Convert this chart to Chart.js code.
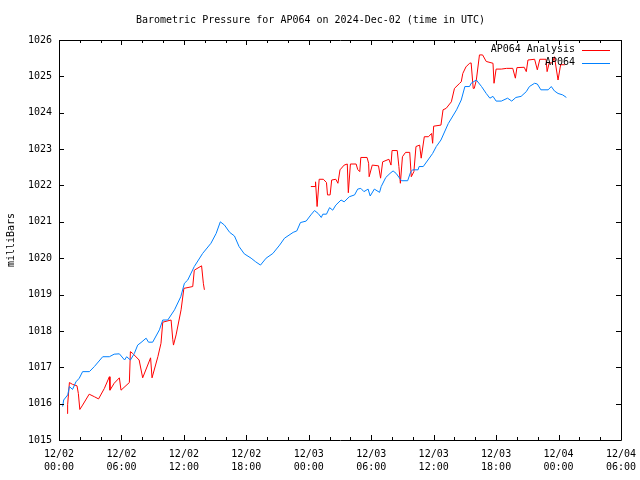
<!DOCTYPE html>
<html>
<head>
<meta charset="utf-8">
<script src="https://cdn.jsdelivr.net/npm/chart.js@4/dist/chart.umd.min.js"></script>
<style>
  html, body { margin: 0; padding: 0; background: #fff; }
  #grafica { display: block; }
</style>
</head>
<body>
<canvas id="grafica" width="640" height="480"></canvas>
<script>
// hours since 12/02 00:00 UTC and pressure (mb)
const horasEstacion = [0.35, 0.45, 0.84, 1.0, 1.3, 1.63, 1.95, 2.27, 2.92, 3.4, 4.2, 4.84, 5.3, 5.8, 6.3, 6.5, 6.86, 7.24, 7.56, 7.88,
  8.37, 8.6, 9.0, 9.65, 9.97, 10.45, 11.1, 11.7, 12.05, 12.37, 13.0, 13.8, 14.6, 15.1, 15.5, 15.9, 16.4, 16.86, 17.3, 17.8,
  18.46, 18.9, 19.36, 19.9, 20.55, 21.2, 21.67, 22.5, 22.85, 23.2, 23.75, 24.2, 24.55, 24.9, 25.2, 25.35, 25.7, 26.0, 26.3, 26.6,
  27.1, 27.4, 27.9, 28.4, 28.7, 29.0, 29.3, 29.7, 29.9, 30.3, 30.8, 30.96, 31.4, 31.8, 32.1, 32.4, 32.9, 33.5, 33.8, 34.0,
  34.5, 34.6, 35.0, 35.45, 35.9, 36.25, 36.7, 37.4, 38.2, 38.65, 39.0, 39.45, 39.6, 40.1, 40.6, 41.05, 41.4, 41.7, 42.0, 42.5,
  43.1, 43.5, 43.9, 44.4, 44.9, 45.2, 45.7, 45.96, 46.3, 47.0, 47.3, 47.6, 47.95, 48.4, 48.75];
const presionEstacion = [1015.92, 1016.10, 1016.24, 1016.47, 1016.39, 1016.60, 1016.70, 1016.88, 1016.88, 1017.02, 1017.29, 1017.29, 1017.36, 1017.37, 1017.20, 1017.29, 1017.20, 1017.38, 1017.61, 1017.68,
  1017.80, 1017.69, 1017.69, 1018.03, 1018.30, 1018.30, 1018.58, 1018.94, 1019.31, 1019.40, 1019.77, 1020.13, 1020.41, 1020.68, 1021.00, 1020.91, 1020.71, 1020.61, 1020.32, 1020.12,
  1020.00, 1019.90, 1019.81, 1020.00, 1020.13, 1020.36, 1020.55, 1020.71, 1020.75, 1020.98, 1021.02, 1021.19, 1021.31, 1021.23, 1021.12, 1021.21, 1021.21, 1021.39, 1021.32, 1021.46,
  1021.60, 1021.55, 1021.69, 1021.74, 1021.90, 1021.92, 1021.83, 1021.90, 1021.71, 1021.90, 1021.81, 1021.97, 1022.22, 1022.33, 1022.40, 1022.33, 1022.13, 1022.13, 1022.38, 1022.43,
  1022.43, 1022.52, 1022.52, 1022.70, 1022.88, 1023.07, 1023.25, 1023.70, 1024.08, 1024.35, 1024.72, 1024.72, 1024.81, 1024.90, 1024.72, 1024.53, 1024.40, 1024.45, 1024.32, 1024.32,
  1024.40, 1024.32, 1024.42, 1024.45, 1024.58, 1024.72, 1024.81, 1024.79, 1024.63, 1024.63, 1024.72, 1024.60, 1024.53, 1024.49, 1024.42];

// analysis series, null = gap in the record
const horasAnalisis = [0.77, 0.83, 1.0, 1.3, 1.73, 1.86, 2.0, 2.27, 2.9, 3.4, 3.8, 4.36, 4.84, 4.9, 5.3, 5.8, 5.96, 6.76, 6.86, 7.08,
  7.7, 8.04, 8.8, 8.94, 9.5, 9.8, 9.97, 10.77, 10.93, 11.0, 11.25, 11.73, 12.0, 12.85, 13.0, 13.7, 13.87, 13.97, 19.0,
  24.2, 24.6, 24.65, 24.8, 25.0, 25.4, 25.7, 25.8, 26.05, 26.2, 26.6, 26.8, 27.0, 27.4, 27.7, 27.8, 28.0, 28.55, 28.7, 28.9,
  29.0, 29.6, 29.75, 29.8, 30.1, 30.7, 30.9, 31.1, 31.7, 31.9, 32.0, 32.5, 32.66, 32.8, 33.0, 33.3, 33.7, 33.85, 34.1, 34.3,
  34.65, 34.8, 35.1, 35.5, 35.8, 35.9, 36.0, 36.7, 36.9, 37.2, 37.7, 38.0, 38.5, 38.65, 38.8, 39.1, 39.45, 39.6, 39.8, 39.9,
  40.1, 40.4, 40.7, 41.05, 41.7, 41.8, 42.0, 42.5, 43.0, 43.6, 43.85, 44.0, 44.7, 44.9, 45.06, 45.7, 45.96, 46.2, 46.8, 46.9,
  47.1, 47.4, 47.6, 47.95, 48.2, 48.6];
const presionAnalisis = [1015.73, 1015.97, 1016.58, 1016.53, 1016.49, 1016.28, 1015.84, 1015.96, 1016.26, 1016.19, 1016.13, 1016.42, 1016.74, 1016.37, 1016.56, 1016.71, 1016.37, 1016.58, 1017.43, 1017.38,
  1017.20, 1016.71, 1017.26, 1016.71, 1017.29, 1017.66, 1018.24, 1018.30, 1017.77, 1017.61, 1017.89, 1018.58, 1019.17, 1019.22, 1019.67, 1019.79, 1019.31, 1019.13, null,
  1021.97, 1021.97, 1022.10, 1021.42, 1022.17, 1022.17, 1022.08, 1021.74, 1021.74, 1022.15, 1022.17, 1022.06, 1022.43, 1022.56, 1022.59, 1021.80, 1022.59, 1022.59, 1022.44, 1022.38,
  1022.77, 1022.77, 1022.61, 1022.24, 1022.56, 1022.54, 1022.20, 1022.65, 1022.72, 1022.56, 1022.96, 1022.96, 1022.52, 1022.06, 1022.79, 1022.91, 1022.91, 1022.24, 1022.38, 1023.07,
  1023.11, 1022.75, 1023.34, 1023.34, 1023.43, 1023.16, 1023.63, 1023.66, 1024.08, 1024.12, 1024.30, 1024.67, 1024.81, 1024.85, 1025.08, 1025.26, 1025.36, 1025.37, 1024.67, 1024.67,
  1024.90, 1025.59, 1025.59, 1025.41, 1025.36, 1024.81, 1025.20, 1025.20, 1025.22, 1025.22, 1024.95, 1025.24, 1025.25, 1025.13, 1025.45, 1025.47, 1025.18, 1025.47, 1025.47, 1025.13,
  1025.37, 1025.37, 1025.54, 1024.90, 1025.32, 1025.32];

const etiquetasSerie = ["AP064 Analysis", "AP064"];
const fechasEje = ["12/02", "12/03", "12/04"];

const fuente = "'DejaVu Sans Mono', 'Liberation Mono', monospace";
Chart.defaults.font.family = fuente;
Chart.defaults.font.size = 10;
Chart.defaults.color = '#000';

function aPuntos(horas, valores) {
  return horas.map((h, i) => ({ x: h, y: valores[i] }));
}

// marco negro con marcas hacia dentro, estilo gnuplot
const marco = {
  id: 'marco',
  afterDraw(chart) {
    const ctx = chart.ctx;
    const a = chart.chartArea;
    const sx = chart.scales.x, sy = chart.scales.y;
    ctx.save();
    ctx.strokeStyle = '#000';
    ctx.lineWidth = 1;
    ctx.beginPath();
    ctx.rect(Math.round(a.left) + 0.5, Math.round(a.top) + 0.5, Math.round(a.right - a.left), Math.round(a.bottom - a.top));
    for (let h = 0; h <= 54; h += 2) {
      const x = Math.round(sx.getPixelForValue(h)) + 0.5;
      const largo = h % 6 === 0 ? 5 : 3;
      ctx.moveTo(x, a.bottom); ctx.lineTo(x, a.bottom - largo);
      ctx.moveTo(x, a.top); ctx.lineTo(x, a.top + largo);
    }
    for (let v = 1015; v <= 1026; v++) {
      const y = Math.round(sy.getPixelForValue(v)) + 0.5;
      ctx.moveTo(a.left, y); ctx.lineTo(a.left + 5, y);
      ctx.moveTo(a.right, y); ctx.lineTo(a.right - 5, y);
    }
    ctx.stroke();

    // leyenda
    ctx.font = '10px ' + fuente;
    ctx.textAlign = 'right';
    ctx.textBaseline = 'middle';
    chart.data.datasets.forEach((ds, i) => {
      const y = 49.5 + 13 * i;
      ctx.fillStyle = '#000';
      ctx.fillText(ds.label, 575, y);
      ctx.strokeStyle = ds.borderColor;
      ctx.beginPath();
      ctx.moveTo(582, Math.round(y) + 0.5);
      ctx.lineTo(610, Math.round(y) + 0.5);
      ctx.stroke();
    });
    ctx.restore();
  }
};

new Chart(document.querySelector('#grafica'), {
  type: 'line',
  data: {
    datasets: [
      {
        label: etiquetasSerie[0],
        data: aPuntos(horasAnalisis, presionAnalisis),
        borderColor: 'rgb(255, 0, 0)',
        borderWidth: 1,
        pointRadius: 0,
        spanGaps: false,
        order: 1
      },
      {
        label: etiquetasSerie[1],
        data: aPuntos(horasEstacion, presionEstacion),
        borderColor: 'rgb(0, 128, 255)',
        borderWidth: 1,
        pointRadius: 0,
        order: 0
      }
    ]
  },
  options: {
    responsive: false,
    animation: false,
    devicePixelRatio: 1,
    layout: { padding: { left: 0, right: 19, top: 0, bottom: 0 } },
    plugins: {
      legend: { display: false },
      tooltip: { enabled: false },
      title: {
        display: true,
        text: 'Barometric Pressure for AP064 on 2024-Dec-02 (time in UTC)',
        font: { family: fuente, size: 10, weight: 'normal' },
        color: '#000',
        padding: { top: 14, bottom: 14 }
      }
    },
    scales: {
      x: {
        type: 'linear',
        min: 0,
        max: 54,
        grid: { display: false, drawTicks: false, tickLength: 0 },
        border: { display: false },
        ticks: {
          stepSize: 6,
          autoSkip: false,
          maxRotation: 0,
          padding: 8,
          font: { family: fuente, size: 10, lineHeight: 1.3 },
          callback: (v) => {
            const dia = fechasEje[Math.floor(v / 24)];
            const hora = String(v % 24).padStart(2, '0') + ':00';
            return [dia, hora];
          }
        },
        afterFit: (s) => { s.height = 40; s.paddingLeft = 0; s.paddingRight = 0; }
      },
      y: {
        min: 1015,
        max: 1026,
        grid: { display: false, drawTicks: false, tickLength: 0 },
        border: { display: false },
        ticks: { stepSize: 1, padding: 7, font: { family: fuente, size: 10 }, callback: (v) => String(v) },
        title: {
          display: true,
          text: 'milliBars',
          font: { family: fuente, size: 10 },
          color: '#000',
          padding: { top: 5, bottom: 0 }
        },
        afterFit: (s) => { s.width = 59; s.paddingTop = 0; s.paddingBottom = 0; }
      }
    }
  },
  plugins: [marco]
});
</script>
</body>
</html>
